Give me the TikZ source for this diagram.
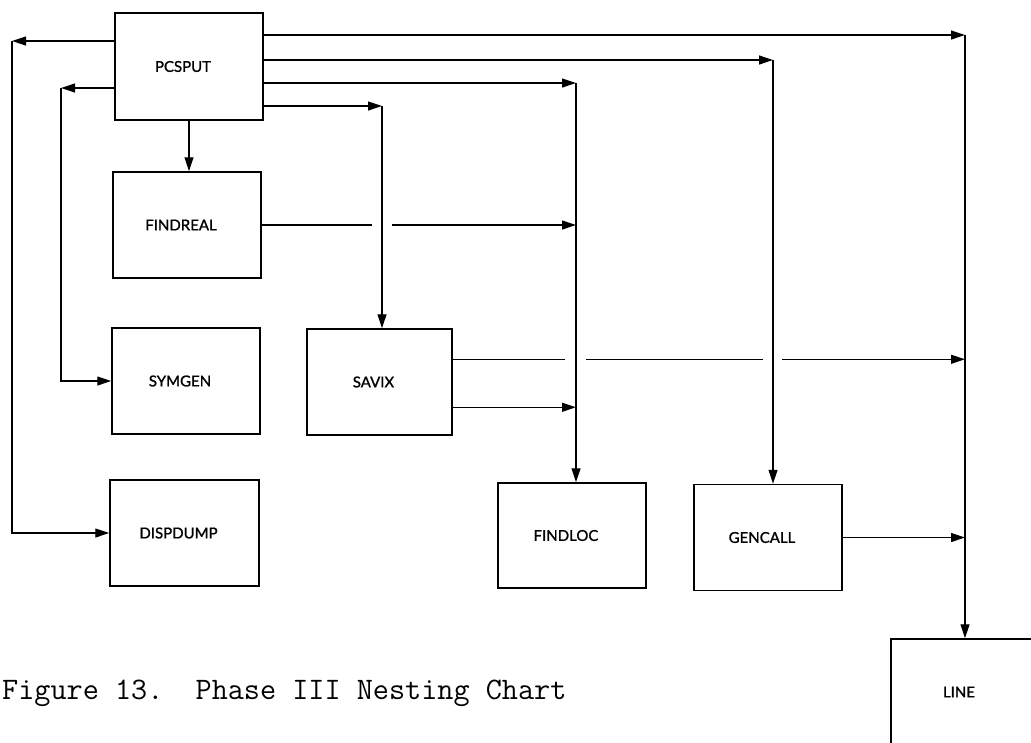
\documentclass[tikz,border=0pt]{standalone}
\usepackage{fontspec}
\setmainfont{Lato}
\newfontfamily\boxfont[FakeBold=1.2]{Lato}
\usetikzlibrary{arrows.meta,calc}
\begin{document}
\begin{tikzpicture}[x=1pt,y=-1pt,
  box/.style={draw, line width=1.5pt, inner sep=0pt, minimum width=148pt, minimum height=106pt,
    font=\boxfont\fontsize{15}{18}\selectfont, execute at end node=\kern12pt},
  conn/.style={line width=1.2pt},
  arr/.style={conn, -{Triangle[length=14pt,width=9pt]}}]
\clip (0,0) rectangle (1031,742);
\fill[white] (0,0) rectangle (1031,742);
% boxes
\node[box, minimum height=107pt] (pcsput) at (189,66.5) {PCSPUT};
\node[box] (findreal) at (187,225) {FINDREAL};
\node[box] (symgen) at (186,381) {SYMGEN};
\node[box, minimum width=149pt] (dispdump) at (184.5,533) {DISPDUMP};
\node[box, minimum width=145pt] (savix) at (379.5,382) {SAVIX};
\node[box, minimum height=105pt] (findloc) at (572,535.5) {FINDLOC};
\node[box] (gencall) at (768,537.5) {GENCALL};
\node[box] (line) at (965,692) {LINE};
% caption
\node[anchor=base west, inner sep=0pt, font=\ttfamily\fontsize{31.3}{34}\selectfont] (cap) at (2,699)
  {\frenchspacing Figure 13.~~Phase III Nesting Chart};
% corner points
\coordinate (c1) at (12,41);
\coordinate (c2) at (61,88);
\coordinate (c4) at (965,35);
\coordinate (c5) at (773,60);
\coordinate (c6) at (576,83);
\coordinate (c7) at (382,106);
\coordinate (s1) at ([yshift=-31pt]savix.north east);
\coordinate (s2) at ([yshift=-79pt]savix.north east);
% left side
\draw[arr] (pcsput.west |- c1) -- (c1);
\draw[arr] (c1) |- (dispdump.west);
\draw[arr] (pcsput.west |- c2) -- (c2);
\draw[arr] (c2) |- (symgen.west);
\draw[arr] (pcsput.south) -- (pcsput.south |- findreal.north);
% right side from PCSPUT
\draw[arr] (pcsput.east |- c4) -- (c4);
\draw[arr] (c4) -- (c4 |- line.north);
\draw[arr] (pcsput.east |- c5) -- (c5);
\draw[arr] (c5) -- (c5 |- gencall.north);
\draw[arr] (pcsput.east |- c6) -- (c6);
\draw[arr] (c6) -- (c6 |- findloc.north);
\draw[arr] (pcsput.east |- c7) -- (c7);
\draw[arr] (c7) -- (c7 |- savix.north);
% FINDREAL -> FINDLOC (gap at SAVIX line)
\draw[conn] (findreal.east) -- ([xshift=-10pt]c7 |- findreal.east);
\draw[arr] ([xshift=10pt]c7 |- findreal.east) -- (c6 |- findreal.east);
% SAVIX -> LINE (gaps)
\draw[conn] (s1) -- ([xshift=-11pt]c6 |- s1);
\draw[conn] ([xshift=10pt]c6 |- s1) -- ([xshift=-10pt]c5 |- s1);
\draw[arr] ([xshift=9pt]c5 |- s1) -- (c4 |- s1);
% SAVIX -> FINDLOC
\draw[arr] (s2) -- (c6 |- s2);
% GENCALL -> LINE
\draw[arr] (gencall.east) -- (c4 |- gencall.east);
\end{tikzpicture}
\end{document}
